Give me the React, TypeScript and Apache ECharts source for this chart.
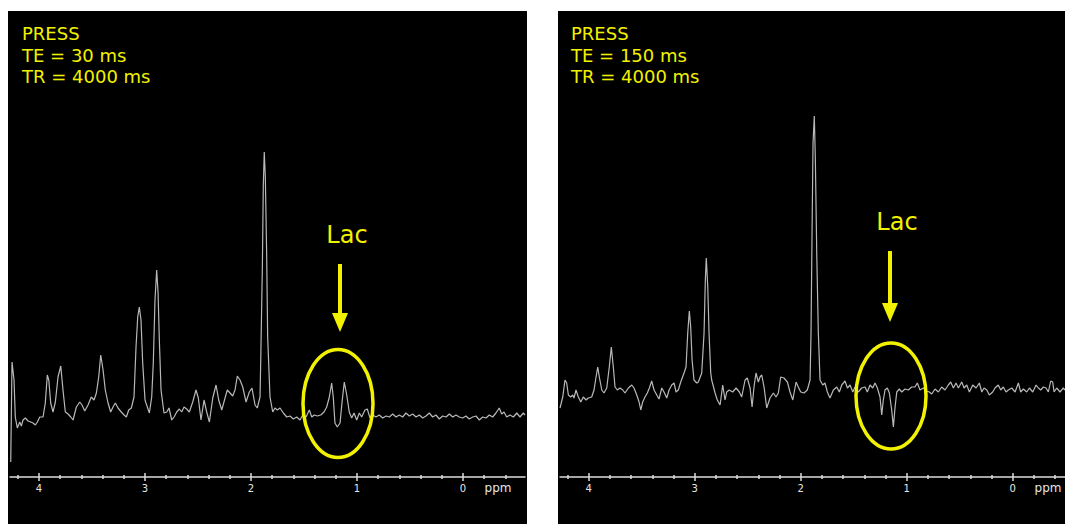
import React, { useEffect, useRef } from "react";
import * as echarts from "echarts";

// Spectrum data: [chemical shift (ppm), intensity (a.u.)]
const te30: number[][] = [
  [4.267, 15], [4.255, 115], [4.236, 97], [4.224, 60], [4.205, 49], [4.182, 55], [4.167, 51], [4.151, 57],
  [4.129, 59], [4.104, 56], [4.078, 55], [4.057, 54], [4.035, 52], [4.016, 55], [3.993, 60], [3.962, 60],
  [3.941, 74], [3.922, 102], [3.908, 97], [3.89, 74], [3.868, 65], [3.846, 75], [3.821, 100], [3.795, 111],
  [3.774, 87], [3.752, 65], [3.726, 63], [3.701, 60], [3.679, 57], [3.648, 70], [3.616, 75], [3.594, 72],
  [3.569, 66], [3.538, 72], [3.507, 80], [3.481, 77], [3.459, 84], [3.437, 100], [3.418, 122], [3.396, 107],
  [3.375, 87], [3.349, 74], [3.324, 65], [3.302, 70], [3.28, 74], [3.255, 69], [3.224, 65], [3.198, 62],
  [3.176, 60], [3.154, 67], [3.129, 69], [3.104, 80], [3.085, 130], [3.069, 160], [3.054, 170], [3.038, 157],
  [3.022, 114], [3.0, 77], [2.991, 74], [2.959, 64], [2.937, 80], [2.922, 114], [2.906, 177], [2.89, 207],
  [2.877, 184], [2.865, 137], [2.849, 87], [2.821, 64], [2.795, 65], [2.774, 69], [2.748, 57], [2.726, 60],
  [2.701, 65], [2.676, 68], [2.654, 65], [2.632, 70], [2.607, 68], [2.582, 65], [2.55, 75], [2.519, 87],
  [2.497, 79], [2.472, 57], [2.443, 77], [2.418, 65], [2.393, 55], [2.361, 79], [2.33, 92], [2.305, 77],
  [2.276, 67], [2.245, 79], [2.224, 87], [2.198, 84], [2.173, 81], [2.151, 87], [2.129, 101], [2.104, 97],
  [2.078, 90], [2.047, 75], [2.016, 85], [1.991, 89], [1.962, 72], [1.941, 69], [1.915, 80], [1.906, 130],
  [1.893, 210], [1.884, 292], [1.875, 325], [1.865, 300], [1.852, 220], [1.843, 140], [1.821, 80], [1.795, 65],
  [1.774, 69], [1.752, 67], [1.726, 69], [1.695, 64], [1.663, 60], [1.632, 61], [1.601, 58], [1.569, 60],
  [1.538, 57], [1.512, 62], [1.481, 60], [1.45, 67], [1.427, 60], [1.403, 62], [1.375, 61], [1.342, 62],
  [1.311, 65], [1.286, 70], [1.261, 80], [1.239, 94], [1.224, 80], [1.208, 54], [1.186, 50], [1.16, 54],
  [1.142, 74], [1.12, 95], [1.097, 82], [1.073, 65], [1.05, 59], [1.028, 64], [1.003, 57], [0.978, 64],
  [0.956, 60], [0.925, 67], [0.903, 68], [0.877, 59], [0.852, 62], [0.821, 60], [0.79, 62], [0.758, 59],
  [0.726, 61], [0.695, 60], [0.663, 63], [0.632, 60], [0.601, 62], [0.569, 60], [0.538, 64], [0.507, 61],
  [0.475, 63], [0.443, 60], [0.412, 62], [0.38, 59], [0.349, 61], [0.318, 64], [0.286, 60], [0.255, 62],
  [0.224, 58], [0.192, 61], [0.16, 60], [0.129, 63], [0.097, 60], [0.066, 62], [0.035, 60], [0.003, 59],
  [-0.028, 61], [-0.059, 58], [-0.092, 60], [-0.123, 61], [-0.154, 57], [-0.186, 60], [-0.217, 59], [-0.248, 62],
  [-0.28, 60], [-0.311, 64], [-0.342, 69], [-0.365, 63], [-0.387, 65], [-0.412, 60], [-0.443, 62], [-0.475, 60],
  [-0.507, 64], [-0.538, 60], [-0.569, 64], [-0.585, 62],
];

const te150: number[][] = [
  [4.271, 69], [4.245, 80], [4.224, 97], [4.208, 94], [4.192, 82], [4.17, 80], [4.151, 82], [4.139, 79],
  [4.12, 87], [4.098, 80], [4.075, 75], [4.051, 80], [4.025, 77], [4.004, 79], [3.972, 80], [3.95, 87],
  [3.931, 100], [3.915, 110], [3.9, 100], [3.877, 87], [3.856, 84], [3.83, 89], [3.806, 110], [3.787, 130],
  [3.768, 110], [3.752, 90], [3.73, 87], [3.705, 89], [3.679, 87], [3.658, 84], [3.626, 89], [3.594, 92],
  [3.573, 89], [3.547, 82], [3.525, 75], [3.509, 67], [3.491, 75], [3.469, 80], [3.447, 84], [3.428, 89],
  [3.406, 96], [3.384, 87], [3.358, 82], [3.337, 78], [3.311, 89], [3.29, 85], [3.264, 79], [3.242, 87],
  [3.217, 92], [3.195, 94], [3.176, 85], [3.155, 87], [3.132, 95], [3.101, 104], [3.082, 110], [3.066, 144],
  [3.051, 166], [3.038, 150], [3.025, 117], [3.007, 97], [2.981, 94], [2.966, 95], [2.934, 104], [2.912, 144],
  [2.9, 197], [2.891, 219], [2.877, 190], [2.865, 144], [2.849, 104], [2.84, 97], [2.808, 84], [2.787, 77],
  [2.761, 72], [2.736, 92], [2.714, 77], [2.698, 85], [2.674, 87], [2.642, 85], [2.61, 89], [2.579, 85],
  [2.557, 80], [2.525, 97], [2.504, 99], [2.478, 89], [2.459, 70], [2.441, 90], [2.422, 104], [2.4, 95],
  [2.384, 100], [2.368, 102], [2.346, 90], [2.321, 69], [2.29, 79], [2.258, 84], [2.233, 80], [2.211, 84],
  [2.189, 100], [2.158, 99], [2.126, 95], [2.101, 85], [2.075, 77], [2.044, 95], [2.023, 90], [2.0, 85],
  [1.969, 84], [1.938, 87], [1.912, 97], [1.903, 144], [1.893, 247], [1.884, 334], [1.872, 361], [1.862, 317],
  [1.849, 224], [1.834, 144], [1.818, 97], [1.792, 92], [1.771, 94], [1.749, 85], [1.724, 79], [1.692, 87],
  [1.66, 90], [1.636, 85], [1.613, 92], [1.582, 96], [1.56, 89], [1.535, 92], [1.509, 85], [1.488, 90],
  [1.457, 85], [1.425, 89], [1.393, 90], [1.372, 85], [1.346, 92], [1.321, 89], [1.299, 94], [1.277, 89],
  [1.252, 80], [1.236, 62], [1.221, 77], [1.205, 87], [1.183, 89], [1.164, 84], [1.142, 67], [1.126, 50],
  [1.11, 70], [1.094, 85], [1.07, 88], [1.047, 85], [1.016, 88], [0.985, 87], [0.953, 90], [0.922, 90],
  [0.9, 94], [0.875, 87], [0.843, 89], [0.811, 86], [0.787, 85], [0.764, 83], [0.733, 88], [0.702, 85],
  [0.67, 90], [0.639, 87], [0.608, 92], [0.585, 95], [0.56, 89], [0.535, 94], [0.513, 89], [0.481, 95],
  [0.459, 89], [0.434, 92], [0.409, 85], [0.377, 92], [0.346, 89], [0.315, 94], [0.292, 85], [0.271, 89],
  [0.245, 87], [0.221, 82], [0.189, 85], [0.167, 89], [0.136, 92], [0.113, 87], [0.089, 90], [0.063, 85],
  [0.042, 87], [0.009, 89], [-0.022, 85], [-0.053, 94], [-0.075, 85], [-0.1, 88], [-0.132, 85], [-0.157, 89],
  [-0.189, 85], [-0.22, 92], [-0.242, 89], [-0.264, 87], [-0.289, 90], [-0.314, 89], [-0.336, 85], [-0.358, 96],
  [-0.377, 95], [-0.39, 85], [-0.415, 89], [-0.446, 85], [-0.477, 89], [-0.493, 87],
];

const majorTicks = [4, 3, 2, 1, 0];
const minorTicks = [4.2, 3.8, 3.6, 3.4, 3.2, 2.8, 2.6, 2.4, 2.2, 1.8, 1.6, 1.4, 1.2, 0.8, 0.6, 0.4, 0.2, -0.2, -0.4];
const leftLabels = ["PRESS", "TE = 30 ms", "TR = 4000 ms"];
const rightLabels = ["PRESS", "TE = 150 ms", "TR = 4000 ms"];
const lacLabel = "Lac";
const unitLabel = "ppm";

const YELLOW = "#f2f200";
const GREY = "#b8b8b8";
const AXIS = "#dcdcdc";
const FONT = "DejaVu Sans";

function axesFor(gridIndex: number, min: number, max: number) {
  const base = {
    gridIndex,
    type: "value",
    position: "bottom",
    inverse: true,
    min,
    max,
    splitLine: { show: false },
  };
  return [
    {
      ...base,
      axisLine: { show: true, lineStyle: { color: AXIS, width: 1.5 } },
      axisTick: { show: true, inside: false, length: 4, customValues: majorTicks, lineStyle: { color: AXIS, width: 1.5 } },
      axisLabel: { show: true, customValues: majorTicks, color: "#e6e6e6", fontSize: 10, fontFamily: FONT, margin: 6 },
    },
    {
      ...base,
      axisLine: { show: false },
      axisTick: { show: true, inside: true, length: 4, customValues: majorTicks, lineStyle: { color: AXIS, width: 1.5 } },
      axisLabel: { show: false },
    },
    {
      ...base,
      axisLine: { show: false },
      axisTick: { show: true, inside: false, length: 2, customValues: minorTicks, lineStyle: { color: AXIS, width: 1.5 } },
      axisLabel: { show: false },
    },
    {
      ...base,
      axisLine: { show: false },
      axisTick: { show: true, inside: true, length: 2, customValues: minorTicks, lineStyle: { color: AXIS, width: 1.5 } },
      axisLabel: { show: false },
    },
  ];
}

function headerTexts(x: number, lines: string[]) {
  return lines.map((t, i) => ({
    type: "text",
    z: 100,
    x,
    y: 33.7 + i * 21.6,
    style: { text: t, fill: YELLOW, font: `18px "${FONT}"`, align: "left", verticalAlign: "middle" },
  }));
}

function lacMarker(cx: number, lacY: number, shaftTop: number, tipY: number) {
  return [
    {
      type: "text",
      z: 100,
      x: cx + 7,
      y: lacY,
      style: { text: lacLabel, fill: YELLOW, font: `24px "${FONT}"`, align: "center", verticalAlign: "middle" },
    },
    {
      type: "line",
      z: 100,
      shape: { x1: cx, y1: shaftTop, x2: cx, y2: tipY - 16 },
      style: { stroke: YELLOW, lineWidth: 4 },
    },
    {
      type: "polygon",
      z: 100,
      shape: { points: [[cx - 8, tipY - 19], [cx + 8, tipY - 19], [cx, tipY]] },
      style: { fill: YELLOW },
    },
  ];
}

export default function App() {
  const ref = useRef<HTMLDivElement>(null);

  useEffect(() => {
    if (!ref.current) return;
    const chart = echarts.init(ref.current, null, { renderer: "svg" });
    const option: any = {
      animation: false,
      backgroundColor: "#ffffff",
      grid: [
        { left: 10, top: 11, width: 515, height: 466 },
        { left: 560, top: 11, width: 505, height: 466 },
      ],
      xAxis: [...axesFor(0, -0.585, 4.274), ...axesFor(1, -0.493, 4.271)],
      yAxis: [
        { gridIndex: 0, type: "value", min: 0, max: 466, show: false },
        { gridIndex: 1, type: "value", min: 0, max: 466, show: false },
      ],
      series: [
        {
          type: "line",
          xAxisIndex: 0,
          yAxisIndex: 0,
          data: te30,
          showSymbol: false,
          symbol: "none",
          lineStyle: { color: GREY, width: 1.2 },
          z: 5,
        },
        {
          type: "line",
          xAxisIndex: 4,
          yAxisIndex: 1,
          data: te150,
          showSymbol: false,
          symbol: "none",
          lineStyle: { color: GREY, width: 1.2 },
          z: 5,
        },
      ],
      graphic: [
        { type: "rect", z: -10, shape: { x: 8, y: 11, width: 519, height: 513 }, style: { fill: "#000" } },
        { type: "rect", z: -10, shape: { x: 558, y: 11, width: 507, height: 513 }, style: { fill: "#000" } },
        ...headerTexts(22, leftLabels),
        ...headerTexts(571, rightLabels),
        ...lacMarker(340, 235, 264, 332),
        ...lacMarker(890, 222, 251, 322),
        {
          type: "ellipse",
          z: 100,
          shape: { cx: 338, cy: 403.5, rx: 35, ry: 54 },
          style: { fill: "none", stroke: YELLOW, lineWidth: 3.5 },
        },
        {
          type: "ellipse",
          z: 100,
          shape: { cx: 891, cy: 396, rx: 35, ry: 53 },
          style: { fill: "none", stroke: YELLOW, lineWidth: 3.5 },
        },
        {
          type: "text",
          z: 100,
          x: 498,
          y: 488,
          style: { text: unitLabel, fill: "#e6e6e6", font: `12px "${FONT}"`, align: "center", verticalAlign: "middle" },
        },
        {
          type: "text",
          z: 100,
          x: 1048,
          y: 488,
          style: { text: unitLabel, fill: "#e6e6e6", font: `12px "${FONT}"`, align: "center", verticalAlign: "middle" },
        },
      ],
    };
    chart.setOption(option);
    return () => chart.dispose();
  }, []);

  return (
    <div
      ref={ref}
      style={{ position: "absolute", left: 0, top: 0, width: 1065, height: 524 }}
    />
  );
}
